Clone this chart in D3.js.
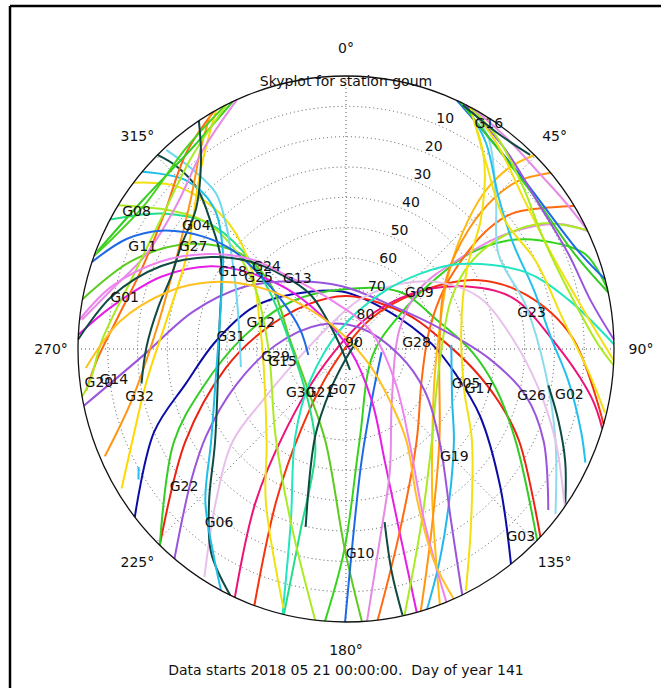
<!DOCTYPE html>
<html><head><meta charset="utf-8">
<script src="https://cdn.jsdelivr.net/npm/d3@7"></script>
<style>body{margin:0;background:#fff;} svg{display:block;} text{font-family:"DejaVu Sans",sans-serif;fill:#111;}</style>
</head><body><svg id="chart" width="670" height="688"></svg>
<script>
// ---------- data: tracks as [azimuth deg, elevation deg] ----------
const trk01 = [[232,0],[247,20],[258,35],[273,46],[294,56],[315,64.5],[356,71],[50,71],[87,61],[103,52],[116,40],[131,21.5],[142,0]];
const trk02 = [[224,0],[240.5,28],[261,49],[281,61],[319,70.5],[2,72.5],[61,66.5],[83,58.5],[98.5,47],[109,35.5],[117.5,24.5],[133.5,0]];
const trk03 = [[224,0],[242,24.5],[255,40],[276,55],[311,66],[356,70.3],[43.5,64],[74,57.5],[91.5,47.5],[104.5,38],[118,25.5],[134.5,0]];
const trk04 = [[200,0],[205,34.5],[209.5,59],[217,81],[39.5,77.5],[52.5,59],[63,40],[73.5,27],[87,14],[106,0]];
const trk05 = [[204.5,0],[211,31],[217,56],[231,79],[33,78.5],[50,62],[61.5,46.7],[73,31.8],[87,21],[101,6],[107,0]];
const trk06 = [[184.5,0],[180.5,23.7],[171.5,59.3],[102.5,80.8],[58,68.7],[52.7,54.8],[52.8,38],[56.4,25.6],[61,16],[68.7,3.8],[77.4,0]];
const trk07 = [[280.5,0],[292,12.4],[303.7,27.5],[311.6,42.8],[310,57],[279,71],[223,71.4],[193,59],[180.3,23.7],[176.6,0]];
const trk08 = [[95,78],[153,71],[172,52.6],[178,26.3],[180.2,0]];
const trk09 = [[273,0],[280,10],[291,23.5],[301,37],[307.5,48.4],[315,62],[322.6,75.7],[104,88.6],[153,71],[160.6,50.8],[163.4,27],[164.7,0]];
const trk10 = [[175.5,0],[170,25.3],[160,47],[138,67],[70.6,71],[51.4,58.5],[52,41.8],[55,23.4],[60,7.6],[64.4,0]];
const trk11 = [[44.7,0],[42.5,9],[42,20.8],[45.7,35.5],[56,49],[78.6,58],[109,58.6],[134.7,49.2],[150,32],[156.7,13.4],[159.5,0]];
const trk12 = [[58.4,0],[54.4,10.4],[51.3,18.6],[50.4,27.7],[52.2,39],[59,51.6],[77.3,61.3],[112,62.6],[142,51.5],[163.4,27],[173.2,0]];
const trk13 = [[49.8,0],[46.3,9.8],[45,19.8],[46.2,32.7],[52.8,46.5],[63.2,53.8],[93.7,58.6],[134,46.4],[154.6,23.2],[163.8,0]];
const trk14 = [[64.2,0],[58,11.8],[54.7,27],[56,40],[65,51],[90.6,58],[119.5,55.5],[134.7,49.2],[156,27.6],[167.4,0]];
const trk15 = [[87.8,54.6],[115.5,50.5],[130,42.7],[145.4,29],[156,13],[162.4,0]];
const trk16 = [[258,0],[268.3,22],[283.5,37.2],[300.4,49.8],[321,61.3],[356.3,69.3],[45,69.3],[77.4,58],[93.6,42],[104.3,27.7],[114.6,17],[128,3.8]];
const trk17 = [[219.8,0],[230,22],[238.6,35],[252,51],[273,66.3],[312.7,78.2],[33.7,81.6],[96.3,72],[117.4,60.3],[134,46.4],[148.2,23],[154.3,0]];
const trk18 = [[27.2,0],[36.3,11.8],[46.5,27.5],[57,41.6],[80.7,50.8],[109,48],[125.6,38],[143.6,19.2],[153.2,0.7]];
const trk19 = [[27.6,0],[34.8,5.9],[45.4,19.3],[58.6,30],[76.3,28],[96.5,22.6],[113.3,13.4],[127.7,1.1]];
const trk20 = [[100,21],[108.4,14.8],[116.7,7.6],[124.7,0.4]];
const trk21 = [[27,0.6],[34.6,7.3],[46,18.6],[58.4,24],[72.7,24],[87,21],[98,14.6],[109,6.5],[115,1.3]];
const trk22 = [[212.3,1],[221,23.4],[231.4,41.4],[238.7,57.2],[253.5,71.2],[312,80.6],[16,73],[40,62],[55,51.7],[69,42.2],[86,34.2],[101.4,24],[113.3,13.4],[125.3,0]];
const trk23 = [[89,0],[77.7,13.6],[67.2,24.6],[53.6,42.8],[45,55],[32.2,68.7],[342.5,83.4],[229.3,74.2],[210.7,56.7],[198,30],[193.7,0]];
const trk24 = [[298.3,0],[306,14],[312,28.2],[313,41.7],[307,57.4],[269,72],[210.5,66.4],[197,54.8],[194.3,27.7],[193.4,0]];
const trk25 = [[193,29.8],[199.8,59.5],[201.3,75.3],[185,86.3],[53,85]];
const trk26 = [[167.2,31.5],[168.2,14.8],[167.8,0.3]];
const trk27 = [[240.8,10.2],[238.3,8.1]];
const trk28 = [[307.5,0],[313.3,11.7],[316.6,30],[311.6,46.3],[282.5,60.6],[221.3,49.6],[208.2,33],[193.8,2]];
const trk29 = [[301.8,0],[307.6,15],[311.4,26],[311.5,39.2],[303,53.8],[269.3,64],[219.5,52.8],[198,30],[186.6,0]];
const trk30 = [[315.3,0],[316.6,7],[316.7,17],[312.4,28.7],[305.2,38.6],[278.4,47],[235.4,36.6],[222.4,21.8],[214,9],[205.6,0]];
const trk31 = [[310.5,0],[316,12.7],[316.5,25.2],[308.6,37],[291.3,45],[256.7,45],[236.2,35.5],[223.2,21],[213.7,9.5],[207.8,0]];
const trk32 = [[317.4,0.8],[319,11.8],[319.6,22.6],[315.7,32.2],[306.4,42.8],[289.7,51.4],[260.4,54.2]];
const trk33 = [[331,0],[320.8,13],[299.5,28.4],[279,29],[261,22.2],[247,12],[238.6,1.7]];
const trk34 = [[330.4,0],[320.3,6],[306.2,14.4],[291,16.5],[277.2,12.4],[267.5,6.3],[261,1.6]];
const trk35 = [[329.7,0],[323.7,7.7],[313.7,18],[297.5,25.7],[275.7,26],[256.7,16],[246.4,1.6]];
const trk36 = [[336,0],[323.8,8.7],[309.5,16],[295,16],[284,8.9],[276.2,0.8]];
const trk37 = [[335,0],[322,6],[306,6],[291,0.5]];
const trk38 = [[333.2,0],[321,4.7],[304.7,7.3],[293.3,2.5],[290,0]];
const trk39 = [[333.6,0],[320.5,8.3],[304.7,14.5],[287.7,14.4],[272,8],[263,3.4],[260,0]];
const trk40 = [[326.7,0],[322.3,10.4],[312.6,21.6],[301.6,25],[292.2,26.6],[282.5,25.5],[270.6,23],[260.6,20.4]];
const trk41 = [[288.6,0],[296.3,8],[302.2,16.8],[307.8,29.7],[310.6,40.4],[310,52.6],[306.3,63.5],[292.4,73.4],[261,77.2]];
const trk42 = [[272,0],[282.4,9.4],[293.8,22.2],[303.8,35.5],[311.3,46],[318.3,57],[326.3,68.4],[321.8,84],[169,83]];
const trk43 = [[276.2,0],[284.7,8.7],[295,21.6],[304,34],[312.8,46.4],[321.7,60],[342,72.8],[51.6,79.8],[122.3,70.7],[145,53],[155.2,27.2],[158,0]];
const trk44 = [[265.9,2.4],[276.8,13.5],[287.8,27.7],[295.6,39],[303.3,51.7],[312.7,67],[332.4,82],[123.7,80.4],[141.2,64],[146.2,53.5],[154.5,34.2],[157.1,13.7],[156.3,0]];
const trk45 = [[24.5,0],[45,8],[67.5,5.6],[75.2,0]];
const trk46 = [[25.2,0],[49,9],[68,7],[78,0]];
const trk47 = [[26.5,0],[38.6,5],[53.4,9.5],[67.2,9],[79.2,6.2],[88,0]];
const trk48 = [[27.6,0],[37.5,12.7],[51,21.8],[65.5,20],[82.5,16.4],[95,8.4],[103.6,0.5]];
const trk49 = [[28,0],[37.7,6],[50.2,12.4],[65.6,14.2],[80.7,9.3],[92.4,0]];
const trk50 = [[27.8,0],[36.6,4],[48.4,10.2],[61.3,14.4],[78,12],[89,5.3],[93.4,0]];
const trk51 = [[28.5,0],[38,2],[48,3],[56,2],[64,0]];
const trk52 = [[26,0.5],[36,2.5],[44,1]];

const tracks = [trk01,trk02,trk03,trk04,trk05,trk06,trk07,trk08,trk09,trk10,trk11,trk12,trk13,trk14,trk15,trk16,trk17,trk18,trk19,trk20,trk21,trk22,trk23,trk24,trk25,trk26,trk27,trk28,trk29,trk30,trk31,trk32,trk33,trk34,trk35,trk36,trk37,trk38,trk39,trk40,trk41,trk42,trk43,trk44,trk45,trk46,trk47,trk48,trk49,trk50,trk51,trk52];

const trackColors = ["#0b0ba6","#ee2211","#33cc22","#f5330c","#ee1177","#33d41c","#5ccb1e","#1e6ae6","#e61ee6","#e68ae6",
 "#ffbb11","#ff6a10","#ff9412","#aaea22","#22b8ec","#9a55dc","#9a55dc","#f2e010","#8adcec","#0e4a42",
 "#22c0f0","#e8c0ec","#22e6c0","#22de8a","#0e4a42","#0e4a42","#22c0f0","#f2e010","#aaea22","#0e4a42",
 "#1ec0e8","#6fd8f0","#ffd800","#ff6a10","#ff9412","#e68ae6","#33cc22","#44d41a","#aaea22","#0e4a42",
 "#1e6ae6","#0e4a42","#ee82ee","#ffc020","#1e6ae6","#33cc22","#9a55dc","#f2e010","#f2e010","#aaea22",
 "#e68ae6","#0e4a42"];

// satellite labels
const satNames = ["G16","G08","G04","G11","G27","G24","G18","G25","G13","G01","G09","G23","G12","G31","G28","G29","G15","G20","G14","G32","G30","G21","G07","G05","G17","G26","G02","G19","G10","G03","G22","G06"];
const satLabelAz = [32.8,302.8,309.2,296.5,303.5,315.7,304,308.9,325,283.1,52.9,78.8,287.4,276.4,84.4,264.4,259.4,262.5,262.7,257.5,227.6,211.8,185.9,105.7,106.2,103.8,101.3,134.2,176,136.4,230.2,216.8];
const satLabelEl = [1.5,6.3,25.1,13.7,28.4,51.8,44.1,52.3,61.5,13.7,59.1,26.5,60,51.1,66.2,66.2,68.3,6.3,11.4,19,69.2,73.5,76.9,48.1,43.5,25.8,13.5,39.3,22.5,4.9,19.2,18.8];

// axes ticks
const elevTicks = [10,20,30,40,50,60,70,80,90];
const azTicks = [0,45,90,135,180,225,270,315];
const titleText = "Skyplot for station goum";
const footText = "Data starts 2018 05 21 00:00:00.  Day of year 141";

// ---------- layout ----------
const cx = 346, cy = 349, R = 270, sx = 268/270, sy = 273/270;
const rScale = d3.scaleLinear().domain([90, 0]).range([0, R]);
const aScale = d3.scaleLinear().domain([0, 360]).range([0, 2*Math.PI]);
const pos = (az, el) => { const r = rScale(el), a = aScale(az); return [cx + sx*r*Math.sin(a), cy - sy*r*Math.cos(a)]; };

const svg = d3.select('#chart');
svg.append('rect').attr('width',670).attr('height',688).attr('fill','#fff');
// frame
svg.append('line').attr('x1',10).attr('y1',6).attr('x2',661).attr('y2',6).attr('stroke','#000').attr('stroke-width',2.5);
svg.append('line').attr('x1',10).attr('y1',6).attr('x2',10).attr('y2',688).attr('stroke','#000').attr('stroke-width',2.5);

const g = svg.append('g').attr('transform',`translate(${cx},${cy}) scale(${sx},${sy})`);

// grid rings
g.selectAll('circle.ring').data(elevTicks.filter(e => e < 90)).enter().append('circle')
  .attr('r', d => rScale(d)).attr('fill','none').attr('stroke','#555').attr('stroke-width',1)
  .attr('stroke-dasharray','1,3').attr('vector-effect','non-scaling-stroke');
// radial lines
g.selectAll('line.spoke').data(azTicks).enter().append('line')
  .attr('x1',0).attr('y1',0)
  .attr('x2', d => rScale(0)*Math.sin(aScale(d))).attr('y2', d => -rScale(0)*Math.cos(aScale(d)))
  .attr('stroke','#555').attr('stroke-width',1).attr('stroke-dasharray','1,3').attr('vector-effect','non-scaling-stroke');

// tracks
const line = d3.lineRadial().angle(d => aScale(d[0])).radius(d => rScale(d[1])).curve(d3.curveCatmullRom.alpha(0.5));
g.selectAll('path.trk').data(tracks).enter().append('path')
  .attr('d', line).attr('fill','none').attr('stroke', (d,i) => trackColors[i])
  .attr('stroke-width',2).attr('vector-effect','non-scaling-stroke').attr('stroke-linecap','butt');

// outer circle
g.append('circle').attr('r', rScale(0)).attr('fill','none').attr('stroke','#111').attr('stroke-width',1.3).attr('vector-effect','non-scaling-stroke');

// elevation labels (at 22.5 deg azimuth)
svg.selectAll('text.el').data(elevTicks).enter().append('text')
  .attr('x', d => pos(22.5, d)[0] + 8).attr('y', d => pos(22.5, d)[1] - 7)
  .attr('text-anchor','middle').attr('dominant-baseline','central').attr('font-size',14)
  .text(d => d);

// azimuth labels
svg.selectAll('text.az').data(azTicks).enter().append('text')
  .attr('x', d => cx + 295*Math.sin(aScale(d))).attr('y', d => cy - 301*Math.cos(aScale(d)))
  .attr('text-anchor','middle').attr('dominant-baseline','central').attr('font-size',14)
  .text(d => d + '°');

// satellite labels
svg.selectAll('text.sat').data(satNames).enter().append('text')
  .attr('x', (d,i) => pos(satLabelAz[i], satLabelEl[i])[0]).attr('y', (d,i) => pos(satLabelAz[i], satLabelEl[i])[1])
  .attr('text-anchor','middle').attr('dominant-baseline','central').attr('font-size',14)
  .text(d => d);

svg.append('text').attr('x',cx).attr('y',81).attr('text-anchor','middle').attr('dominant-baseline','central').attr('font-size',14).text(titleText);
svg.append('text').attr('x',cx).attr('y',670).attr('text-anchor','middle').attr('dominant-baseline','central').attr('font-size',14)
  .style('white-space','pre').attr('xml:space','preserve').text(footText);
</script>
</body></html>
